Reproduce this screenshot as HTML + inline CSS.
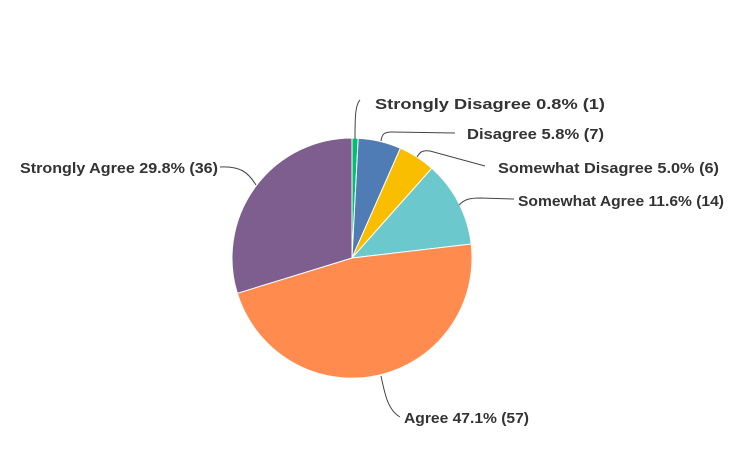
<!DOCTYPE html>
<html><head><style>
html,body{margin:0;padding:0;background:#fff;width:754px;height:463px;overflow:hidden}
text{font-family:"Liberation Sans",sans-serif;font-weight:bold;font-size:14.5px;fill:#333}
</style></head><body>
<svg width="754" height="463" viewBox="0 0 754 463" xmlns="http://www.w3.org/2000/svg">
<g stroke="#fff" stroke-width="1">
<path d="M352,258 L352,138 A120,120 0 0 1 358.2,138.2 Z" fill="#00bf6f"/>
<path d="M352,258 L358.2,138.2 A120,120 0 0 1 400.4,148.2 Z" fill="#507cb6"/>
<path d="M352,258 L400.4,148.2 A120,120 0 0 1 431.8,168.3 Z" fill="#f9be00"/>
<path d="M352,258 L431.8,168.3 A120,120 0 0 1 471.2,244.0 Z" fill="#6bc8cd"/>
<path d="M352,258 L471.2,244.0 A120,120 0 0 1 237.3,293.3 Z" fill="#ff8b4f"/>
<path d="M352,258 L237.3,293.3 A120,120 0 0 1 352,138 Z" fill="#7d5e8f"/>
</g>
<g fill="none" stroke="#444" stroke-width="1">
<path d="M355,139 C355,120 355,105 360,100"/>
<path d="M381,141 C382,134 384,132 392,132 L455,133"/>
<path d="M417,157 C420,152 422,150 430,151 L485,166"/>
<path d="M459,205 C465,199 470,198 480,198 L514,199"/>
<path d="M220,167 C240,166 248,172 256,185"/>
<path d="M381,376 C385,395 388,410 400,417"/>
</g>
<text x="375" y="109" textLength="230" lengthAdjust="spacingAndGlyphs">Strongly Disagree 0.8% (1)</text>
<text x="467" y="139" textLength="137" lengthAdjust="spacingAndGlyphs">Disagree 5.8% (7)</text>
<text x="498" y="173" textLength="221" lengthAdjust="spacingAndGlyphs">Somewhat Disagree 5.0% (6)</text>
<text x="518" y="206" textLength="206" lengthAdjust="spacingAndGlyphs">Somewhat Agree 11.6% (14)</text>
<text x="20" y="173" textLength="198" lengthAdjust="spacingAndGlyphs">Strongly Agree 29.8% (36)</text>
<text x="404" y="423" textLength="125" lengthAdjust="spacingAndGlyphs">Agree 47.1% (57)</text>
</svg>
</body></html>
